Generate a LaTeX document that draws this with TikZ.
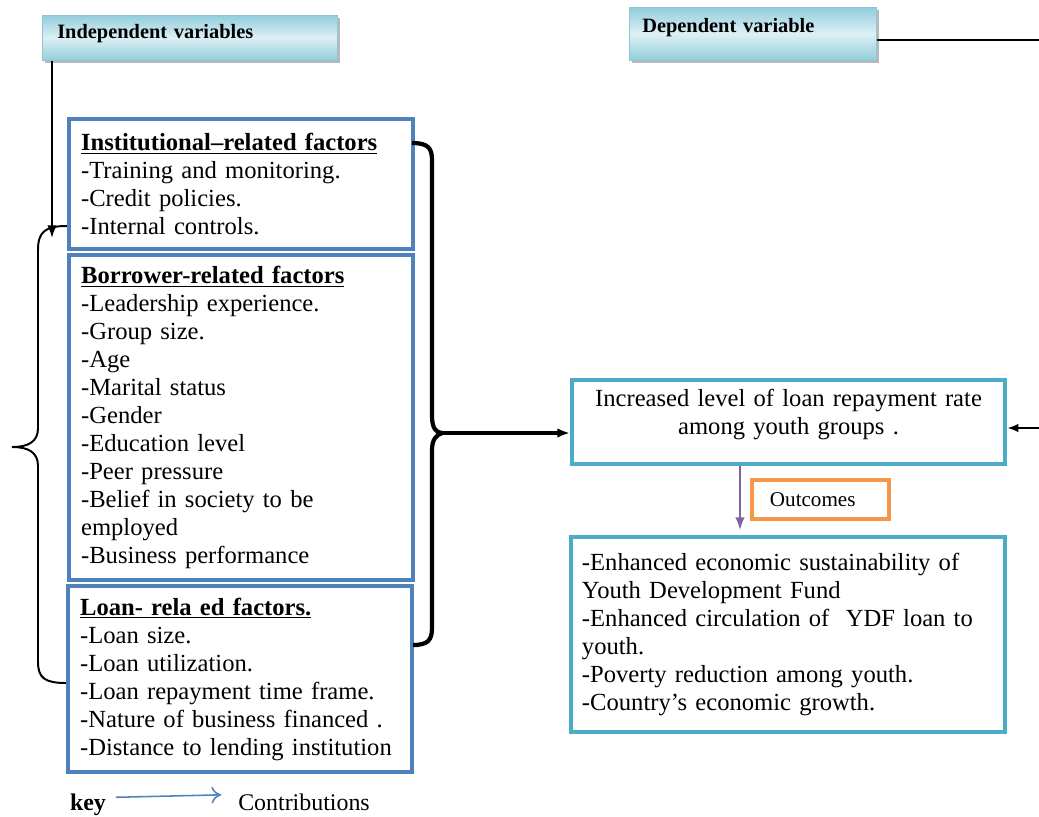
\documentclass[tikz,border=0pt]{standalone}
\usepackage{fontspec}
\setmainfont{Liberation Serif}
\usetikzlibrary{arrows.meta,positioning,shadows}

\definecolor{boxblue}{HTML}{4F81BD}
\definecolor{boxteal}{HTML}{4BACC6}
\definecolor{boxorange}{HTML}{F79646}
\definecolor{arrowpurple}{HTML}{8064A2}
\definecolor{hdrdark}{HTML}{92CDDC}
\definecolor{hdrlight}{HTML}{DDF0F5}

\newcommand{\listfont}{\fontsize{17.5}{19.9}\selectfont}

\tikzset{
 hdr/.style={anchor=north west, align=left, inner ysep=.1cm, draw=hdrdark!90!gray, line width=.4pt,
  top color=hdrdark, bottom color=hdrdark, middle color=hdrlight,
  drop shadow={shadow xshift=.06cm, shadow yshift=-.08cm, fill=gray!55, opacity=1},
  font=\fontsize{14.5}{16}\selectfont\bfseries},
 factor/.style={anchor=north west, draw=boxblue, line width=3pt, text width=8cm, inner xsep=.3cm,
  inner ysep=.25cm, align=left, font=\listfont},
 result/.style={anchor=north west, draw=boxteal, line width=2.8pt, inner ysep=.25cm, font=\listfont},
}

\begin{document}
\begin{tikzpicture}[x=0.025cm,y=-0.025cm]
 \useasboundingbox (0,0) rectangle (1039,816);

 % headers
 \node (iv) at (42,15) [hdr, text width=6.625cm, inner xsep=.375cm, text height=.475cm, text depth=.45cm] {Independent variables};
 \node (dv) at (629,7) [hdr, text width=5.525cm, inner xsep=.325cm, text height=.525cm, text depth=.6cm] {Dependent variable};

 % factor boxes
 \node (b1) at (67,117) [factor, minimum height=3.25cm] {\underline{\textbf{Institutional--related factors}}\\
  -Training and monitoring.\\ -Credit policies.\\ -Internal controls.};
 \node (b2) at (67,253) [factor, minimum height=8.125cm] {\underline{\textbf{Borrower-related factors}}\\
  -Leadership experience.\\ -Group size.\\ -Age\\ -Marital status\\ -Gender\\ -Education level\\
  -Peer pressure\\ -Belief in society to be\\ employed\\ -Business performance};
 \node (b3) at (66,584) [factor, minimum height=4.65cm] {\underline{\textbf{Loan- rela ed factors.}}\\
  -Loan size.\\ -Loan utilization.\\ -Loan repayment time frame.\\ -Nature of business financed .\\
  -Distance to lending institution};

 % dependent side
 \node (dep) at (570,378) [result, text width=10.225cm, inner xsep=.3cm, inner ysep=.1cm, text height=.575cm,
  text depth=1.325cm, align=center] {Increased level of loan repayment rate\\ among youth groups .};
 \node (oc) at (750,478) [anchor=north west, draw=boxorange, line width=2.8pt, text width=2.525cm, inner xsep=.45cm,
  minimum height=.975cm, align=left, font=\fontsize{15}{18}\selectfont] {Outcomes};
 \node (res) at (569,535) [result, text width=10.3cm, inner xsep=.275cm, minimum height=4.875cm, align=left]
  {-Enhanced economic sustainability of\\ Youth Development Fund\\ -Enhanced circulation of \ YDF loan to\\
  youth.\\ -Poverty reduction among youth.\\ -Country's economic growth.\par\vspace{.32cm}};

 % key
 \node (k) [anchor=base, font=\fontsize{17}{20}\selectfont\bfseries] at (88,810) {key};
 \node (ct) [anchor=base, font=\fontsize{17}{20}\selectfont] at (304,810) {Contributions};

 % coordinates
 \coordinate (c0) at (52,238);
 \coordinate (c1) at (442,433);
 \coordinate (c2) at (1039,428);
 \coordinate (c3) at (1039,40);
 \coordinate (c4) at (740,530);

 % braces
 \draw[line width=1.4pt] (67,226) .. controls (45,226) and (38,232) .. (38,250) -- (38,428)
  .. controls (38,442) and (28,447) .. (12,447) .. controls (28,447) and (38,452) .. (38,466)
  -- (38,662) .. controls (38,678) and (45,683) .. (66,683);
 \draw[line width=3pt] (412,143) .. controls (428,143) and (432,148) .. (432,160) -- (432,416)
  .. controls (432,428) and (436,433) .. (c1) .. controls (436,435) and (432,440) .. (432,450)
  -- (432,628) .. controls (432,640) and (428,645) .. (413,645);

 % connectors
 \draw[line width=1.4pt,-{Latex[length=9pt]}] (iv.south west -| c0) -- (c0);
 \draw[line width=2.6pt,-{Latex[length=9pt]}] (c1) -- (c1 -| dep.west);
 \draw[line width=1.6pt,-{Latex[length=8pt]}] (c2) -- (c2 -| dep.east);
 \draw[line width=1.6pt] (c3 -| dv.east) -- (c3);
 \draw[arrowpurple,line width=1.3pt,-{Latex[length=9pt]}] (dep.south -| c4) -- (c4);
 \draw[boxblue,line width=1.1pt,-{To[length=7pt,width=12pt]}] ([shift={(5,-7)}]k.east) -- ([shift={(-12,-7)}]ct.west);
\end{tikzpicture}
\end{document}
